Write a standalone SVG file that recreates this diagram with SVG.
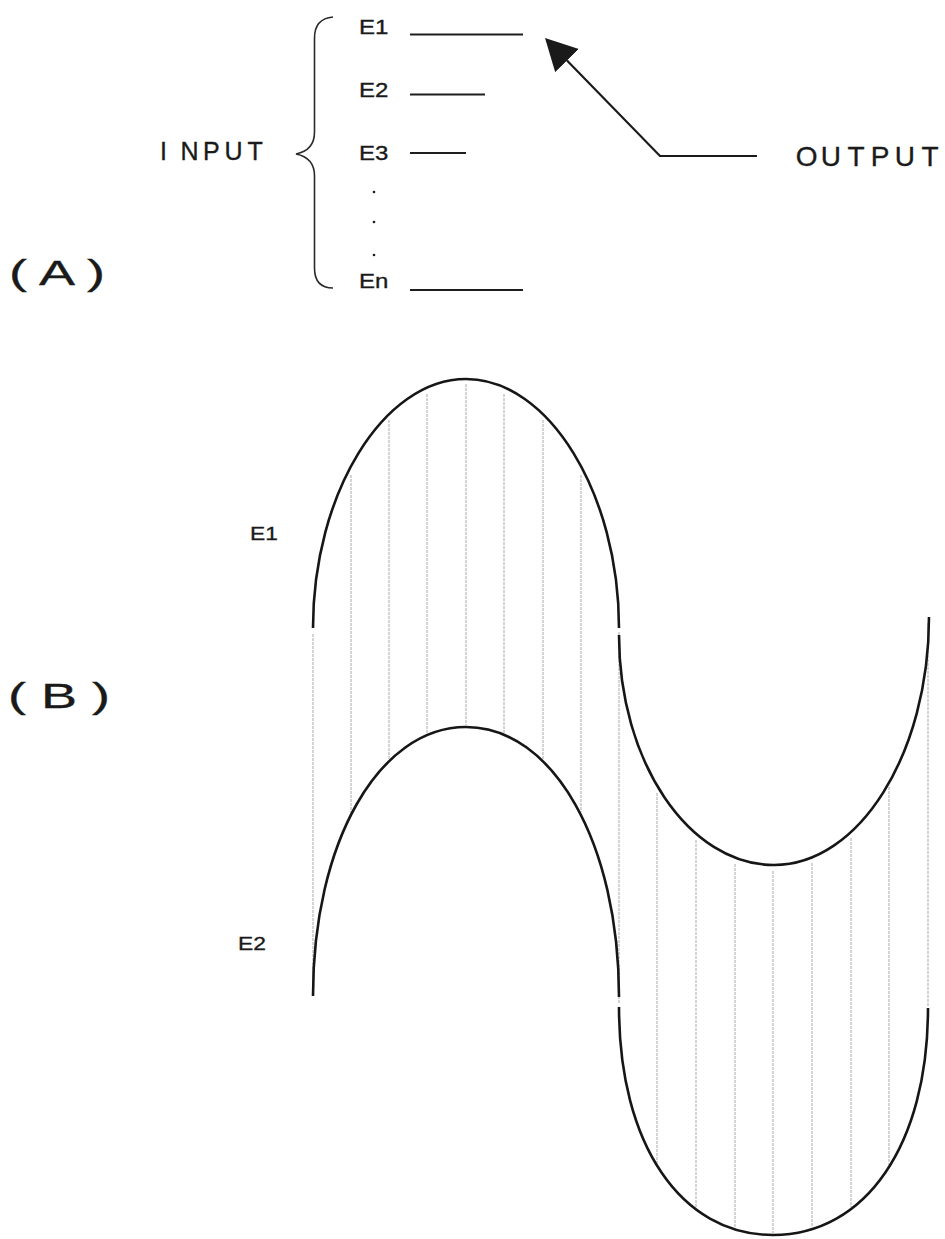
<svg xmlns="http://www.w3.org/2000/svg" width="945" height="1239" viewBox="0 0 945 1239">
<defs>
<style>
.t{font-family:"Liberation Sans",Arial,Helvetica,sans-serif;fill:#1a1a1a;stroke:#1a1a1a;stroke-width:0.35}
.big{font-size:36px}
.lbl{font-size:20px}
.lbl2{font-size:19px}
.cap{font-size:25px}
.cap2{font-size:28px}
.wave{fill:none;stroke:#161616;stroke-width:2.6}
.hatch{stroke:#a9a9a9;stroke-width:1;stroke-dasharray:3 1}
.lead{stroke:#1e1e1e;stroke-width:2}
.brace{fill:none;stroke:#2a2a2a;stroke-width:1.6}
.conn{fill:none;stroke:#1a1a1a;stroke-width:2.2}
</style>
<marker id="head" markerUnits="userSpaceOnUse" markerWidth="32" markerHeight="34" viewBox="0 0 32 34" refX="0" refY="17" orient="auto"><path d="M0,0.5 L31.5,17 L0,33.5 Z" fill="#1a1a1a"/></marker>
</defs>
<rect width="945" height="1239" fill="#ffffff"/>

<g id="label-A"><text class="t big" transform="translate(9,285) scale(1.5,1)">( A )</text></g>
<g id="label-B"><text class="t big" transform="translate(8,708) scale(1.5,1)">( B )</text></g>

<g id="input-label"><text class="t cap" x="160 180.5 203 224.5 247.5" y="160">INPUT</text></g>
<g id="brace"><path class="brace" d="M333,17 C322,18 314.5,24 314.5,38 L314.5,132 C314.5,146 306,152 296,154 C306,156 314.5,162 314.5,176 L314.5,268 C314.5,282 322,288 333,288"/></g>

<g id="input-E1"><text class="t lbl" transform="translate(359,34) scale(1.2,1)">E1</text><line class="lead" x1="410" y1="34.5" x2="523" y2="34.5"/></g>
<g id="input-E2"><text class="t lbl" transform="translate(359,97) scale(1.2,1)">E2</text><line class="lead" x1="410" y1="94.5" x2="485" y2="94.5"/></g>
<g id="input-E3"><text class="t lbl" transform="translate(359,160) scale(1.2,1)">E3</text><line class="lead" x1="410" y1="153" x2="466" y2="153"/></g>
<g id="input-dots" fill="#1a1a1a"><circle cx="374" cy="192" r="1.3"/><circle cx="374" cy="222" r="1.3"/><circle cx="374" cy="255" r="1.3"/></g>
<g id="input-En"><text class="t lbl" transform="translate(359,288) scale(1.2,1)">En</text><line class="lead" x1="410" y1="290" x2="523" y2="290"/></g>

<g id="output-label"><text class="t cap2" x="795.7 820.8 847.4 870.8 894.8 921.4" y="166">OUTPUT</text></g>

<g id="connectors">
<path class="conn" d="M757,156 L660,156 L567,60.6" marker-end="url(#head)"/>
</g>

<g id="hatching">
<line class="hatch" x1="313" y1="634" x2="313" y2="990"/>
<line class="hatch" x1="351" y1="475" x2="351" y2="812"/>
<line class="hatch" x1="389" y1="420" x2="389" y2="759"/>
<line class="hatch" x1="427" y1="394" x2="427" y2="733"/>
<line class="hatch" x1="466" y1="384" x2="466" y2="725"/>
<line class="hatch" x1="504" y1="394" x2="504" y2="733"/>
<line class="hatch" x1="543" y1="420" x2="543" y2="759"/>
<line class="hatch" x1="581" y1="475" x2="581" y2="812"/>
<line class="hatch" x1="619" y1="632" x2="619" y2="1003"/>
<line class="hatch" x1="657" y1="793" x2="657" y2="1164"/>
<line class="hatch" x1="696" y1="840" x2="696" y2="1207"/>
<line class="hatch" x1="735" y1="864" x2="735" y2="1227"/>
<line class="hatch" x1="773" y1="871" x2="773" y2="1233"/>
<line class="hatch" x1="812" y1="863" x2="812" y2="1227"/>
<line class="hatch" x1="851" y1="838" x2="851" y2="1207"/>
<line class="hatch" x1="889" y1="787" x2="889" y2="1165"/>
<line class="hatch" x1="928" y1="623" x2="928" y2="1006"/>
</g>

<g id="wave-E1">
<text class="t lbl2" transform="translate(250,540) scale(1.2,1)">E1</text>
<path class="wave" d="M313,628 C313,493.5 383.4,379 466,379 C548.6,379 619,493.5 619,628"/>
<path class="wave" d="M619,635 C619,761.5 688.75,865 774,865 C859.25,865 929,753.4 929,617"/>
</g>

<g id="wave-E2">
<text class="t lbl2" transform="translate(238,950) scale(1.2,1)">E2</text>
<path class="wave" d="M313,996 C313,842.7 378.8,727 466,727 C553.2,727 619,843.1 619,997"/>
<path class="wave" d="M619,1007 C619,1143.8 680.6,1235 773,1235 C866,1235 928,1144.2 928,1008"/>
</g>
</svg>
